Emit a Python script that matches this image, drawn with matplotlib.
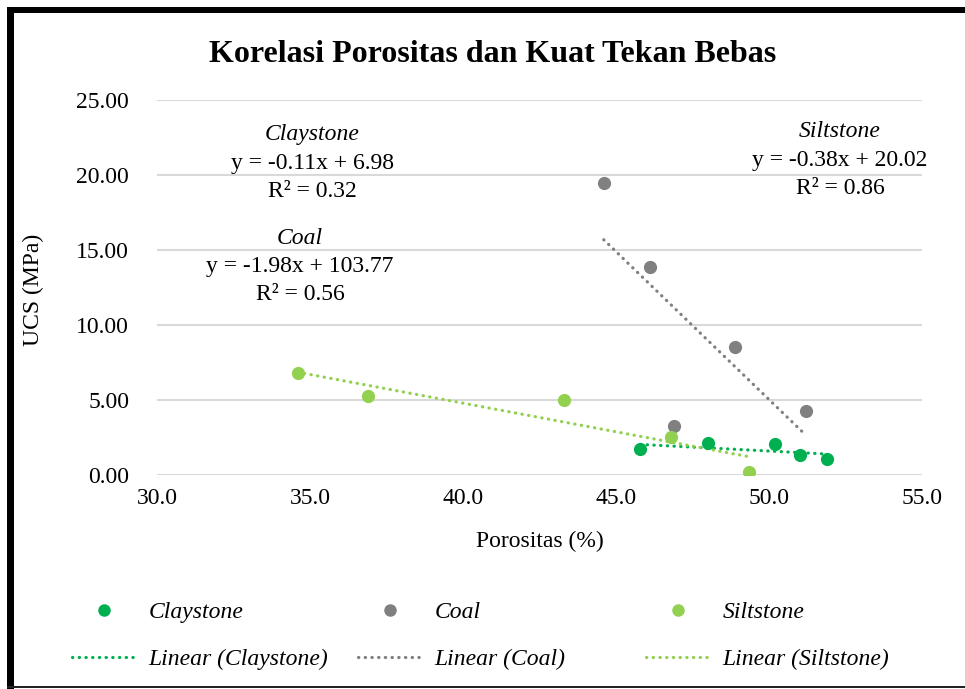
import matplotlib
matplotlib.use("Agg")
import matplotlib.pyplot as plt
import numpy as np
from matplotlib.patches import Rectangle
from matplotlib.lines import Line2D

#---------------- datos ------------
claystone_x = [45.8, 48.0, 50.2, 51.0, 51.9]
claystone_y = [1.73, 2.11, 2.07, 1.33, 1.07]

coal_x = [44.6, 46.1, 48.9, 51.2, 46.9]
coal_y = [19.49, 13.85, 8.51, 4.30, 3.27]

siltstone_x = [34.6, 36.9, 43.3, 46.8, 49.35]
siltstone_y = [6.77, 5.30, 4.97, 2.56, 0.17]

nombres = ["Claystone", "Coal", "Siltstone"]
colores = ["#00B050", "#808080", "#92D050"]

ecuaciones = ["y = -0.11x + 6.98", "y = -1.98x + 103.77", "y = -0.38x + 20.02"]
r2 = ["R² = 0.32", "R² = 0.56", "R² = 0.86"]
# posicion de las etiquetas (x, y del nombre) en unidades de datos
pos_etiquetas = [(35.07, 22.67), (34.67, 15.8), (52.32, 22.87)]

#---------------- grafico ------------
serif = "Liberation Serif"
plt.rcParams["font.family"] = serif

fig = plt.figure(figsize=(9.65, 6.89), dpi=100)
ax = fig.add_axes([157 / 965, 1 - 475 / 689, (922 - 157) / 965, 375 / 689])

series = [(claystone_x, claystone_y), (coal_x, coal_y), (siltstone_x, siltstone_y)]
for (xs, ys), nombre, color in zip(series, nombres, colores):
    xs = np.array(xs)
    ys = np.array(ys)
    ax.plot(xs, ys, "o", color=color, ms=9.5, mec="none", zorder=3)
    # linea de tendencia lineal
    m, b = np.polyfit(xs, ys, 1)
    xt = np.array([xs.min(), xs.max()])
    ax.plot(xt, m * xt + b, color=color, lw=2.3, linestyle=(0, (0.1, 2.0)),
            dash_capstyle="round", zorder=2)

ax.set_xlim(30, 55)
ax.set_ylim(0, 25)
ax.set_xticks(np.arange(30, 56, 5))
ax.set_yticks(np.arange(0, 26, 5))
ax.set_xticklabels(["%.1f" % v for v in np.arange(30, 56, 5)])
ax.set_yticklabels(["%.2f" % v for v in np.arange(0, 26, 5)])
ax.tick_params(length=0, labelsize=17)
ax.tick_params(axis="y", pad=20)
ax.tick_params(axis="x", pad=9)
ax.yaxis.grid(True, color="#D9D9D9", lw=1.5)
ax.set_axisbelow(True)
for s in ax.spines.values():
    s.set_visible(False)

for i in range(3):
    x0, y0 = pos_etiquetas[i]
    ax.text(x0, y0, nombres[i], ha="center", va="center", fontsize=17, style="italic")
    ax.text(x0, y0 - 1.87, ecuaciones[i], ha="center", va="center", fontsize=17)
    ax.text(x0, y0 - 3.74, r2[i], ha="center", va="center", fontsize=17)

fig.text(0.51, 1 - 55 / 689, "Korelasi Porositas dan Kuat Tekan Bebas",
         ha="center", va="center", fontsize=23, fontweight="bold")
fig.text(33 / 965, 1 - 290 / 689, "UCS (MPa)", rotation=90, ha="center", va="center", fontsize=17)
fig.text(540 / 965, 1 - 541 / 689, "Porositas (%)", ha="center", va="center", fontsize=17)

# leyenda en tres columnas
x_leyenda = [72 / 965, 358 / 965, 646 / 965]
for i in range(3):
    h1 = Line2D([], [], marker="o", color=colores[i], ls="none", ms=9, mec="none")
    h2 = Line2D([], [], color=colores[i], lw=2.3, linestyle=(0, (0.1, 2.0)),
                dash_capstyle="round")
    fig.legend([h1, h2], [nombres[i], "Linear (" + nombres[i] + ")"],
               loc="center left", bbox_to_anchor=(x_leyenda[i], 1 - 636 / 689),
               frameon=False, borderpad=0, borderaxespad=0, handlelength=2.7,
               handletextpad=0.55, labelspacing=1.07,
               prop={"family": serif, "style": "italic", "size": 17})

# marco
fig.add_artist(Rectangle((7 / 965, 0), 7 / 965, 1 - 7 / 689, transform=fig.transFigure,
                         color="black", lw=0))
fig.add_artist(Rectangle((7 / 965, 1 - 13 / 689), 1, 6 / 689, transform=fig.transFigure,
                         color="black", lw=0))
fig.add_artist(Rectangle((7 / 965, 1 / 689), 1, 2 / 689, transform=fig.transFigure,
                         color="#222222", lw=0))

fig.savefig("out.png", dpi=100)
